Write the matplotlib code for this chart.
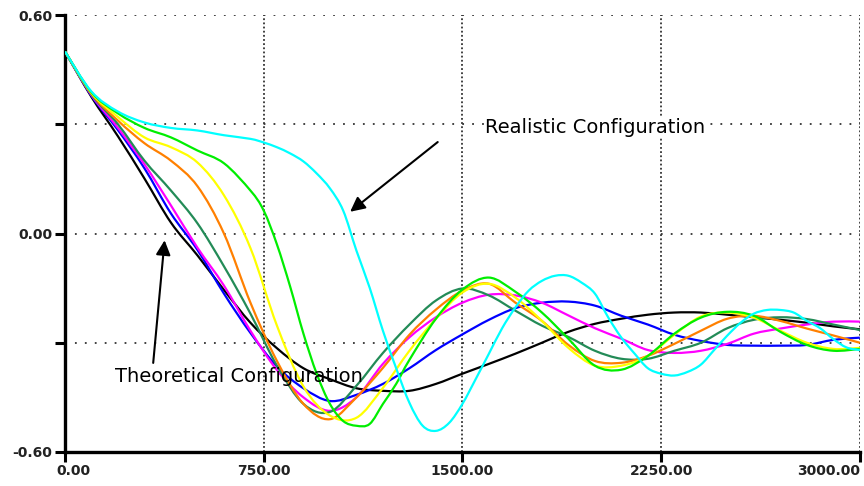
import numpy as np
import matplotlib.pyplot as plt
import matplotlib.transforms as mtransforms
from matplotlib.path import Path
from matplotlib.patches import PathPatch

# x grid shared by most runs (every 100 units)
x_std = list(range(0, 3001, 100))

black = [0.50, 0.375, 0.267, 0.151, 0.03, -0.06, -0.155, -0.245, -0.315, -0.37, -0.40,
         -0.425, -0.432, -0.432, -0.413, -0.385, -0.358, -0.33, -0.30, -0.27, -0.248,
         -0.234, -0.223, -0.217, -0.217, -0.223, -0.23, -0.237, -0.245, -0.255, -0.263]
blue = [0.50, 0.378, 0.284, 0.179, 0.055, -0.045, -0.165, -0.273, -0.365, -0.425, -0.46,
        -0.443, -0.413, -0.37, -0.32, -0.277, -0.237, -0.205, -0.19, -0.187, -0.198,
        -0.226, -0.25, -0.278, -0.295, -0.306, -0.308, -0.308, -0.306, -0.292, -0.286]
magenta = [0.50, 0.38, 0.29, 0.19, 0.077, -0.039, -0.143, -0.267, -0.375, -0.45, -0.487,
           -0.45, -0.358, -0.285, -0.23, -0.19, -0.168, -0.17, -0.19, -0.225, -0.26,
           -0.289, -0.32, -0.328, -0.322, -0.303, -0.275, -0.261, -0.25, -0.242, -0.242]
dgreen = [0.50, 0.382, 0.30, 0.20, 0.118, 0.028, -0.09, -0.22, -0.363, -0.468, -0.49,
          -0.418, -0.328, -0.25, -0.184, -0.151, -0.17, -0.212, -0.253, -0.284, -0.322,
          -0.344, -0.344, -0.322, -0.30, -0.26, -0.237, -0.23, -0.235, -0.25, -0.265]
orange = [0.50, 0.384, 0.31, 0.248, 0.20, 0.13, 0.0, -0.19, -0.35, -0.468, -0.51,
          -0.45, -0.369, -0.278, -0.209, -0.157, -0.138, -0.19, -0.24, -0.306, -0.35,
          -0.355, -0.336, -0.303, -0.267, -0.234, -0.226, -0.24, -0.261, -0.28, -0.30]
yellow = [0.50, 0.386, 0.32, 0.264, 0.237, 0.195, 0.105, -0.04, -0.253, -0.42, -0.50,
          -0.506, -0.424, -0.322, -0.234, -0.162, -0.138, -0.176, -0.24, -0.314, -0.363,
          -0.363, -0.336, -0.278, -0.228, -0.217, -0.231, -0.267, -0.30, -0.317, -0.314]

x_green = [0, 100, 200, 300, 400, 500, 600, 700, 750, 800, 850, 900, 950, 1000, 1050,
           1100, 1150, 1200, 1250, 1300, 1400, 1500, 1600, 1700, 1800, 1900, 2000,
           2100, 2200, 2300, 2400, 2500, 2600, 2700, 2800, 2900, 3000]
green = [0.50, 0.388, 0.33, 0.29, 0.264, 0.228, 0.193, 0.118, 0.063, -0.03, -0.146,
         -0.275, -0.385, -0.468, -0.515, -0.528, -0.523, -0.468, -0.413, -0.347, -0.234,
         -0.154, -0.121, -0.16, -0.217, -0.289, -0.363, -0.374, -0.336, -0.275, -0.231,
         -0.215, -0.226, -0.27, -0.306, -0.322, -0.317]

x_cyan = [0, 100, 200, 300, 400, 500, 600, 700, 750, 800, 850, 900, 950, 1000, 1050,
          1100, 1150, 1200, 1250, 1300, 1350, 1400, 1450, 1500, 1550, 1600, 1650, 1700,
          1750, 1800, 1850, 1900, 1950, 2000, 2050, 2100, 2150, 2200, 2250, 2300, 2350,
          2400, 2450, 2500, 2550, 2600, 2650, 2700, 2750, 2800, 2850, 2900, 2950, 3000]
cyan = [0.50, 0.39, 0.335, 0.305, 0.29, 0.283, 0.27, 0.26, 0.25, 0.237, 0.22, 0.198,
        0.165, 0.124, 0.063, -0.047, -0.149, -0.267, -0.37, -0.465, -0.528, -0.542,
        -0.52, -0.468, -0.40, -0.33, -0.26, -0.203, -0.157, -0.13, -0.116, -0.116,
        -0.135, -0.165, -0.23, -0.286, -0.33, -0.37, -0.385, -0.39, -0.38, -0.36, -0.32,
        -0.28, -0.245, -0.22, -0.21, -0.21, -0.217, -0.24, -0.26, -0.29, -0.313, -0.32]

x_ticks = [0, 750, 1500, 2250, 3000]
x_labels = ['0.00', '750.00', '1500.00', '2250.00', '3000.00']
y_ticks = [-0.6, -0.3, 0.0, 0.3, 0.6]
y_labels = ['-0.60', '', '0.00', '', '0.60']


def smooth_path(xs, ys):
    # bezier segments through the read points (catmull-rom tangents)
    p = np.column_stack([xs, ys]).astype(float)
    n = len(p)
    verts = [p[0]]
    codes = [Path.MOVETO]
    for i in range(n - 1):
        p0 = p[i - 1] if i > 0 else p[i]
        p3 = p[i + 2] if i + 2 < n else p[i + 1]
        verts += [p[i] + (p[i + 1] - p0) / 6, p[i + 1] - (p3 - p[i]) / 6, p[i + 1]]
        codes += [Path.CURVE4] * 3
    return Path(verts, codes)


fig = plt.figure(figsize=(8.64, 4.86), dpi=100)
ax = fig.add_axes([0.0752, 0.070, 0.920, 0.899])

# dotted grid, sparser horizontally
for yv in [0.3, 0.0, -0.3, 0.6]:
    ax.axhline(yv, color='#333333', lw=1.3, ls=(0, (1, 4.5)), zorder=1)
for xv in [750, 1500, 2250, 3000]:
    ax.axvline(xv, color='#333333', lw=1.3, ls=(0, (1, 1.3)), zorder=1)

runs = [
    (x_std, black, '#000000'),
    (x_std, blue, '#0000ff'),
    (x_std, magenta, '#ff00ff'),
    (x_std, dgreen, '#238b57'),
    (x_std, orange, '#ff8000'),
    (x_std, yellow, '#ffff00'),
    (x_green, green, '#00ee00'),
    (x_cyan, cyan, '#00ffff'),
]
for xs, ys, c in runs:
    ax.add_patch(PathPatch(smooth_path(xs, ys), facecolor='none', edgecolor=c,
                           lw=1.6, zorder=3))

ax.set_xlim(0, 3000)
ax.set_ylim(-0.6, 0.6)
ax.set_xticks(x_ticks)
ax.set_xticklabels(x_labels)
ax.set_yticks(y_ticks)
ax.set_yticklabels(y_labels)
ax.tick_params(direction='out', length=7, width=2.2, labelsize=10, pad=2)
for lab in ax.get_xticklabels() + ax.get_yticklabels():
    lab.set_fontweight('bold')
    lab.set_color('#222222')
xl = ax.get_xticklabels()
xl[0].set_ha('left')
xl[0].set_transform(xl[0].get_transform() +
                    mtransforms.ScaledTranslation(-6 / 72, 0, fig.dpi_scale_trans))
xl[-1].set_ha('right')

for side in ['top', 'right']:
    ax.spines[side].set_visible(False)
for side in ['left', 'bottom']:
    ax.spines[side].set_linewidth(2.4)

ax.text(1585, 0.292, 'Realistic Configuration', fontsize=14, family='DejaVu Sans',
        va='center', ha='left', zorder=5,
        bbox=dict(facecolor='white', edgecolor='none', pad=1))
ax.annotate('', xy=(1068, 0.055), xytext=(1415, 0.256),
            arrowprops=dict(arrowstyle='-|>', color='black', lw=1.5, mutation_scale=22))

ax.text(189, -0.394, 'Theoretical Configuration', fontsize=14, family='DejaVu Sans',
        va='center', ha='left', zorder=5)
ax.annotate('', xy=(377, -0.011), xytext=(332, -0.363),
            arrowprops=dict(arrowstyle='-|>', color='black', lw=1.5, mutation_scale=22))

fig.savefig('out.png', dpi=100)
